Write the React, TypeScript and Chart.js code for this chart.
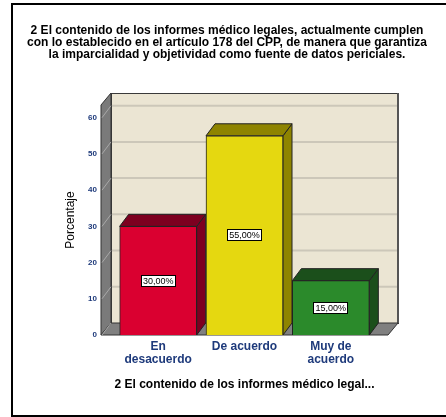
import React, { useEffect, useRef } from 'react';
import { Chart, registerables } from 'chart.js';

Chart.register(...registerables);

const titleLines = [
  '2 El contenido de los informes médico legales, actualmente cumplen',
  'con lo establecido en el artículo 178 del CPP, de manera que garantiza',
  'la imparcialidad y objetividad como fuente de datos periciales.',
];
const categories: string[][] = [['En', 'desacuerdo'], ['De acuerdo'], ['Muy de', 'acuerdo']];
const percentages = [30, 55, 15];
const yTickValues = [0, 10, 20, 30, 40, 50, 60];
const xAxisTitle = '2 El contenido de los informes médico legal...';
const yAxisTitle = 'Porcentaje';
const frontColors = ['#DA0030', '#E5D810', '#2B8A2B'];
const sideColors = ['#7D0020', '#8E8400', '#1B4F1B'];

const FONT = "'Liberation Sans', Arial, sans-serif";
const NAVY = '#1E3A7B';
const WALL = '#EBE5D3';
const WALL_DX = 10;
const WALL_DY = 12;
const BAR_DX = 9;
const BAR_DY = 12;

const poly = (ctx: CanvasRenderingContext2D, pts: number[][], fill: string, stroke: string) => {
  ctx.beginPath();
  ctx.moveTo(pts[0][0], pts[0][1]);
  for (let i = 1; i < pts.length; i++) ctx.lineTo(pts[i][0], pts[i][1]);
  ctx.closePath();
  ctx.fillStyle = fill;
  ctx.fill();
  ctx.strokeStyle = stroke;
  ctx.lineWidth = 1;
  ctx.stroke();
};

const box3d = {
  id: 'box3d',
  beforeDraw(chart: any) {
    const { ctx, width, height } = chart;
    const { left, right, top, bottom } = chart.chartArea;
    const ys = chart.scales.y;
    ctx.save();
    ctx.fillStyle = '#fff';
    ctx.fillRect(0, 0, width, height);
    // frame
    ctx.fillStyle = '#000';
    ctx.fillRect(11, 3, 2, height - 3);
    ctx.fillRect(11, 3, width, 2);
    ctx.fillRect(11, height - 2, width, 2);
    // back wall
    ctx.fillStyle = WALL;
    ctx.fillRect(left + WALL_DX, top - WALL_DY, right - left, bottom - top);
    // back gridlines
    ctx.strokeStyle = '#CCC7B9';
    ctx.lineWidth = 2;
    ys.ticks.forEach((t: any) => {
      if (t.value === 0) return;
      const py = ys.getPixelForValue(t.value) - WALL_DY;
      ctx.beginPath();
      ctx.moveTo(left + WALL_DX, py);
      ctx.lineTo(right + WALL_DX, py);
      ctx.stroke();
    });
    ctx.strokeStyle = '#3A3A3A';
    ctx.lineWidth = 1;
    ctx.strokeRect(left + WALL_DX + 0.5, top - WALL_DY + 0.5, right - left, bottom - top);
    ctx.strokeStyle = '#555';
    ctx.lineWidth = 2;
    ctx.beginPath();
    ctx.moveTo(right + WALL_DX, top - WALL_DY);
    ctx.lineTo(right + WALL_DX, bottom - WALL_DY);
    ctx.stroke();
    // side wall
    poly(ctx, [[left, top], [left + WALL_DX, top - WALL_DY], [left + WALL_DX, bottom - WALL_DY], [left, bottom]], '#7A7A7A', '#333');
    // floor
    poly(ctx, [[left, bottom], [left + WALL_DX, bottom - WALL_DY], [right + WALL_DX, bottom - WALL_DY], [right, bottom]], '#808080', '#333');
    // side gridlines
    ctx.strokeStyle = '#A9A9A9';
    ctx.lineWidth = 1;
    ys.ticks.forEach((t: any) => {
      const py = ys.getPixelForValue(t.value);
      ctx.beginPath();
      ctx.moveTo(left + 1, py);
      ctx.lineTo(left + WALL_DX, py - WALL_DY);
      ctx.stroke();
    });
    ctx.restore();
  },
  beforeDatasetsDraw(chart: any) {
    const { ctx } = chart;
    const meta = chart.getDatasetMeta(0);
    ctx.save();
    meta.data.forEach((bar: any, i: number) => {
      const { x, y, base, width } = bar.getProps(['x', 'y', 'base', 'width'], true);
      const x1 = x - width / 2;
      const x2 = x + width / 2;
      poly(ctx, [[x2, y], [x2 + BAR_DX, y - BAR_DY], [x2 + BAR_DX, base - BAR_DY], [x2, base]], sideColors[i], '#222');
      poly(ctx, [[x1, y], [x1 + BAR_DX, y - BAR_DY], [x2 + BAR_DX, y - BAR_DY], [x2, y]], sideColors[i], '#222');
    });
    ctx.restore();
  },
  afterDatasetsDraw(chart: any) {
    const { ctx } = chart;
    const meta = chart.getDatasetMeta(0);
    ctx.save();
    ctx.font = `9px ${FONT}`;
    ctx.textAlign = 'center';
    ctx.textBaseline = 'middle';
    meta.data.forEach((bar: any, i: number) => {
      const { x, y, base } = bar.getProps(['x', 'y', 'base'], true);
      const text = percentages[i].toFixed(2).replace('.', ',') + '%';
      const w = Math.round(ctx.measureText(text).width) + 4;
      const h = 12;
      const cy = Math.round((y + base) / 2);
      const bx = Math.round(x - w / 2);
      ctx.fillStyle = '#fff';
      ctx.fillRect(bx, cy - h / 2, w, h);
      ctx.strokeStyle = '#000';
      ctx.lineWidth = 1;
      ctx.strokeRect(bx + 0.5, cy - h / 2 + 0.5, w - 1, h - 1);
      ctx.fillStyle = '#000';
      ctx.fillText(text, x, cy + 0.5);
    });
    ctx.restore();
  },
};

export default function App() {
  const ref = useRef<HTMLCanvasElement>(null);
  useEffect(() => {
    if (!ref.current) return;
    const chart = new Chart(ref.current, {
      type: 'bar',
      data: {
        datasets: [
          {
            data: percentages.map((v, i) => ({ x: i, y: v })),
            backgroundColor: frontColors,
            borderColor: '#222',
            borderWidth: 1,
            barThickness: 77,
          } as any,
        ],
      },
      options: {
        animation: false,
        responsive: false,
        layout: { padding: { left: 8, right: 0, top: 0, bottom: 0 } },
        plugins: {
          legend: { display: false },
          tooltip: { enabled: false },
          title: {
            display: true,
            text: titleLines,
            color: '#000',
            font: { family: FONT, size: 12, weight: 'bold', lineHeight: '12px' } as any,
            padding: { top: 25, bottom: 44 },
          },
        },
        scales: {
          x: {
            type: 'linear',
            offset: false,
            min: -0.6625,
            max: 2.6625,
            grid: { display: false, drawTicks: false, offset: false },
            border: { display: false },
            afterBuildTicks: (s: any) => {
              s.ticks = categories.map((_, i) => ({ value: i }));
            },
            ticks: {
              autoSkip: false,
              maxRotation: 0,
              padding: 5,
              color: NAVY,
              font: { family: FONT, size: 12, weight: 'bold', lineHeight: '13px' } as any,
              callback: (v: any) => categories[v] ?? '',
            },
            title: {
              display: true,
              text: xAxisTitle,
              color: '#000',
              font: { family: FONT, size: 12, weight: 'bold', lineHeight: '14px' } as any,
              padding: { top: 0, bottom: 25 },
            },
            afterFit: (s: any) => {
              s.height = 82;
            },
          },
          y: {
            type: 'linear',
            min: 0,
            max: 63.5,
            afterBuildTicks: (s: any) => {
              s.ticks = yTickValues.map((v) => ({ value: v }));
            },
            grid: { display: false, drawTicks: false },
            border: { display: false },
            ticks: {
              padding: 4,
              color: NAVY,
              font: { family: FONT, size: 8, weight: 'bold' },
            },
            title: {
              display: true,
              text: yAxisTitle,
              color: '#000',
              font: { family: FONT, size: 12, lineHeight: '14px' } as any,
              padding: { top: 56, bottom: 0 },
            },
            afterFit: (s: any) => {
              s.width = 93;
            },
          },
          y2: {
            type: 'linear',
            position: 'right',
            display: true,
            grid: { display: false, drawTicks: false },
            border: { display: false },
            ticks: { display: false },
            afterFit: (s: any) => {
              s.width = 58;
            },
          },
        },
      } as any,
      plugins: [box3d as any],
    });
    return () => chart.destroy();
  }, []);
  return (
    <div style={{ position: 'absolute', left: 0, top: 0, width: 446, height: 417 }}>
      <canvas ref={ref} width={446} height={417} style={{ display: 'block' }} />
    </div>
  );
}
